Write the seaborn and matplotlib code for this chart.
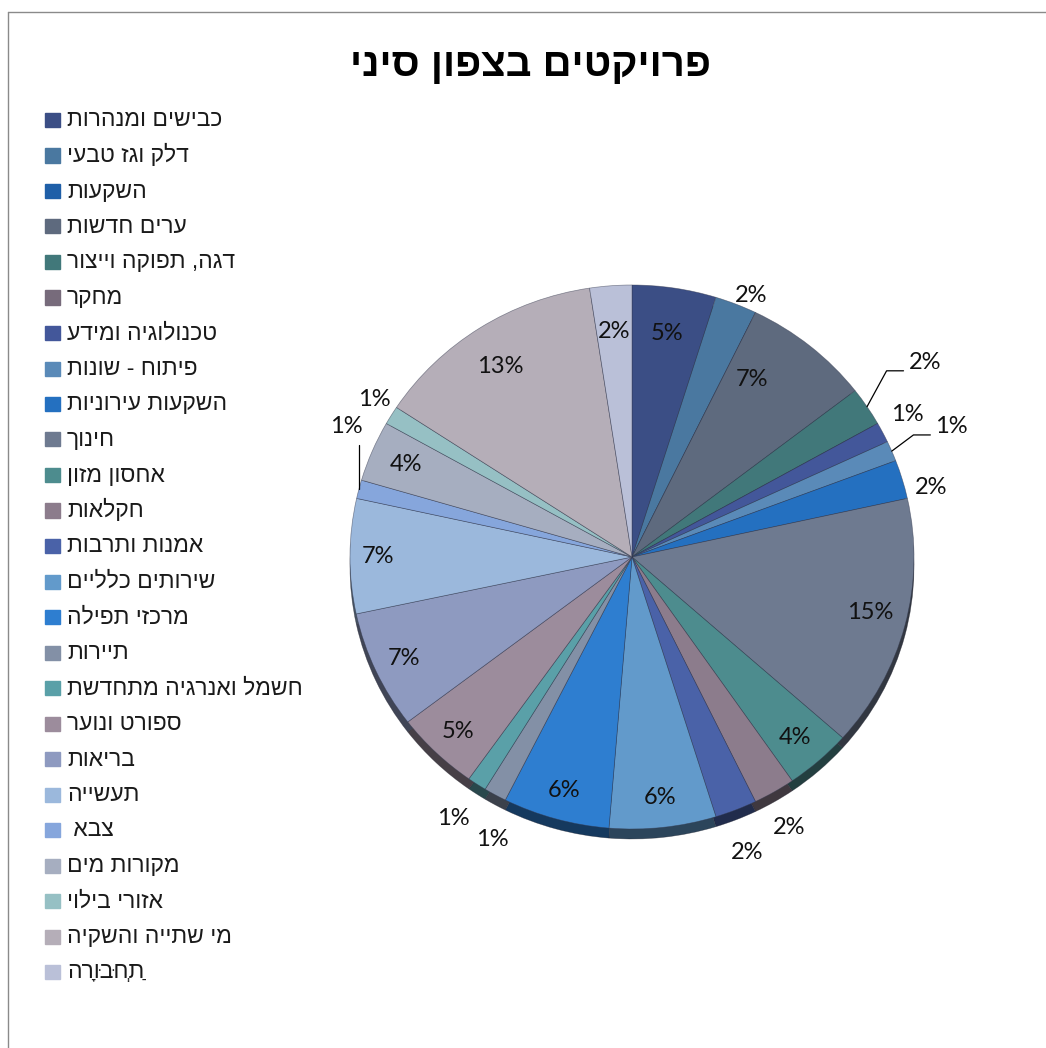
import unicodedata
import numpy as np
import matplotlib
matplotlib.use("Agg")
import matplotlib.pyplot as plt
import seaborn as sns
from matplotlib.patches import Rectangle
from matplotlib.lines import Line2D

# Données du graphique
title = "פרויקטים בצפון סיני"
categories = [
    "כבישים ומנהרות", "דלק וגז טבעי", "השקעות", "ערים חדשות",
    "דגה, תפוקה וייצור", "מחקר", "טכנולוגיה ומידע", "פיתוח - שונות",
    "השקעות עירוניות", "חינוך", "אחסון מזון", "חקלאות", "אמנות ותרבות",
    "שירותים כלליים", "מרכזי תפילה", "תיירות", "חשמל ואנרגיה מתחדשת",
    "ספורט ונוער", "בריאות", "תעשייה", "צבא ", "מקורות מים",
    "אזורי בילוי", "מי שתייה והשקיה", "תַחְבּוּרָה",
]
values = [4.8, 2.4, 0, 7.3, 2.3, 0, 1.2, 1.2, 2.3, 15.0, 3.8, 2.4, 2.4,
          6.1, 6.1, 1.3, 1.1, 4.8, 7.0, 6.8, 1.1, 3.6, 1.1, 13.3, 2.4]
colors = ["#3B4E85", "#4A78A0", "#1F5FA8", "#5E6A7E", "#41787A", "#776B7B",
          "#43579A", "#5A8AB8", "#2470C0", "#6E7A90", "#4D8C8E", "#8C7C8C",
          "#4A62A8", "#629ACB", "#2E7ED0", "#8390A6", "#5AA0A8", "#9C8C9C",
          "#8E9AC0", "#9BB8DC", "#86A6DC", "#A6AEC0", "#96C0C4", "#B5AEB8",
          "#BAC0D8"]

# Placement des étiquettes : indice -> (rayon, décalage angulaire horaire)
label_pos = {0: (0.83, 0), 1: (1.05, 2), 3: (0.78, -6), 4: (1.26, -1),
             6: (1.11, -1), 7: (1.23, 0), 8: (1.09, 3), 9: (0.87, -1),
             10: (0.88, 0.5), 11: (1.14, 1), 12: (1.16, 1), 13: (0.89, 0),
             14: (0.89, 0), 15: (1.15, -3.5), 16: (1.15, 0), 17: (0.89, 0),
             18: (0.89, 0), 19: (0.9, 0), 20: (1.12, 11), 21: (0.87, 0),
             22: (1.08, 1), 23: (0.84, -1), 24: (0.83, 0)}
leaders = [4, 7, 20]


def visual(s):
    # matplotlib ne gère pas le bidi : inversion par grappes (lettre + points)
    clusters = []
    for ch in s:
        if clusters and unicodedata.combining(ch):
            clusters[-1] += ch
        else:
            clusters.append(ch)
    return "".join(reversed(clusters))


sns.set_style("white")
plt.rcParams['font.family'] = ['Liberation Sans', 'DejaVu Sans']

palette = sns.color_palette(colors)
dark = [tuple(c * 0.45 for c in col) for col in palette]

W, H = 1046, 1048
cx, cy, sx, sy = 632, 557, 282, 272
fig = plt.figure(figsize=(W / 100, H / 100), dpi=100)
ax = fig.add_axes([0, 0, 1, 1])

# Bord 3D (tranche sombre sous le camembert)
ax.pie(values, colors=dark, startangle=90, counterclock=False,
       center=(0, -10 / sy), radius=1,
       wedgeprops=dict(edgecolor=(0.1, 0.1, 0.15, 0.5), linewidth=0.4))
wedges, _ = ax.pie(values, colors=palette, startangle=90, counterclock=False,
                   radius=1,
                   wedgeprops=dict(edgecolor=(0.2, 0.22, 0.3, 0.55), linewidth=0.5))

ax.set_aspect('auto')
ax.set_xlim(-cx / sx, (W - cx) / sx)
ax.set_ylim(-(H - cy) / sy, cy / sy)
ax.axis('off')

total = sum(values)
for i, w in enumerate(wedges):
    if values[i] == 0:
        continue
    r, dclock = label_pos[i]
    mid = (w.theta1 + w.theta2) / 2
    ang = np.deg2rad(mid - dclock)
    lx, ly = r * np.cos(ang), r * np.sin(ang)
    pct = int(values[i] / total * 100 + 0.5)
    ax.text(lx, ly, f"{pct}%", ha='center', va='center', fontsize=17,
            family=['Lato', 'DejaVu Sans'], color='#111111')
    if i in leaders:
        ex, ey = np.cos(np.deg2rad(mid)), np.sin(np.deg2rad(mid))
        if lx > 0:
            xs = [ex, lx - 0.135, lx - 0.075]
            ys = [ey, ly - 0.03, ly - 0.03]
        else:
            xs = [ex, ex]
            ys = [ey, ly - 0.07]
        ax.plot(xs, ys, color='black', lw=0.9)

# Titre
fig.text(530 / W, 1 - 65 / H, visual(title), ha='center', va='center',
         fontsize=29, weight='bold', color='black')

# Légende
for i, cat in enumerate(categories):
    yp = 120 + 35.5 * i
    fig.add_artist(Rectangle((45 / W, 1 - (yp + 7) / H), 14.5 / W, 14 / H,
                             transform=fig.transFigure, color=palette[i]))
    fig.text(67 / W, 1 - yp / H, visual(cat), ha='left', va='center',
             fontsize=16.5, color='#1a1a1a')

# Cadre gris
fig.add_artist(Line2D([8 / W, 8 / W], [0, 1 - 12 / H], transform=fig.transFigure,
                      color='#8a8a8a', lw=1))
fig.add_artist(Line2D([8 / W, 1], [1 - 12 / H, 1 - 12 / H], transform=fig.transFigure,
                      color='#8a8a8a', lw=1))

fig.savefig("out.png", dpi=100)
